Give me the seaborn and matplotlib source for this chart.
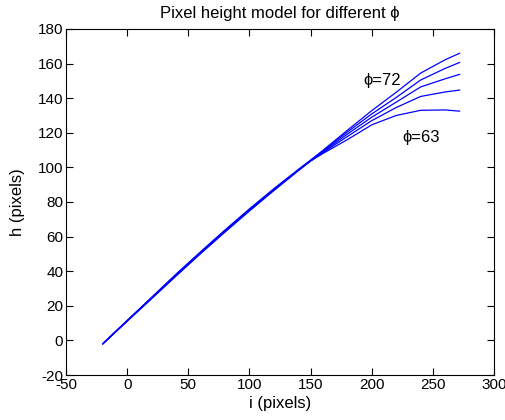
import matplotlib

matplotlib.use("Agg")

import matplotlib.pyplot as plt
import pandas as pd
import seaborn as sns

# column positions i (pixels)
I_VALUES = [-20, 0, 20, 40, 60, 80, 100, 120, 140, 150, 160, 180, 200, 220, 240, 260, 272]

# pixel height h for each phi curve (top curve = phi 72)
H_PHI_72 = [-2.0, 11.5, 24.9, 38.3, 51.2, 63.8, 76.0, 87.7, 98.8, 104.2, 109.8, 121.4, 132.8, 143.4, 154.5, 162.2, 166.0]
H_PHI_70 = [-2.0, 11.4, 24.7, 38.0, 50.9, 63.5, 75.7, 87.4, 98.6, 104.0, 109.4, 120.4, 130.9, 140.4, 150.5, 157.2, 160.7]
H_PHI_68 = [-2.0, 11.3, 24.5, 37.8, 50.7, 63.2, 75.4, 87.1, 98.4, 103.9, 108.9, 119.2, 129.0, 137.7, 146.5, 151.2, 153.8]
H_PHI_66 = [-2.0, 11.2, 24.3, 37.5, 50.4, 62.9, 75.1, 86.9, 98.3, 103.8, 108.5, 117.8, 127.0, 134.6, 141.0, 143.6, 144.7]
H_PHI_63 = [-2.0, 11.1, 24.1, 37.2, 50.1, 62.6, 74.8, 86.6, 98.1, 103.6, 108.0, 116.0, 124.6, 130.0, 133.0, 133.2, 132.5]

PHI_LABELS = [72, 70, 68, 66, 63]

X_TICKS = [-50, 0, 50, 100, 150, 200, 250, 300]
Y_TICKS = [-20, 0, 20, 40, 60, 80, 100, 120, 140, 160, 180]

FONT = ["Liberation Sans", "DejaVu Sans"]


def build_frame() -> pd.DataFrame:
    series = [H_PHI_72, H_PHI_70, H_PHI_68, H_PHI_66, H_PHI_63]
    frames = [
        pd.DataFrame({"i": I_VALUES, "h": values, "phi": phi})
        for phi, values in zip(PHI_LABELS, series)
    ]
    return pd.concat(frames, ignore_index=True)


def main() -> None:
    sns.set_theme(style="white")
    plt.rcParams["font.family"] = FONT
    plt.rcParams["axes.unicode_minus"] = False
    plt.rcParams["xtick.direction"] = "in"
    plt.rcParams["ytick.direction"] = "in"
    plt.rcParams["text.color"] = "black"
    plt.rcParams["axes.labelcolor"] = "black"

    df = build_frame()

    fig = plt.figure(figsize=(5.06, 4.2), dpi=100)
    ax = fig.add_axes([0.1304, 0.1071, 0.8459, 0.8239])
    sns.lineplot(
        data=df, x="i", y="h", hue="phi", units="phi", estimator=None,
        palette=["#0000FF"] * len(PHI_LABELS), linewidth=0.9, legend=False, ax=ax,
    )

    ax.set_xlim(-50, 300)
    ax.set_ylim(-20, 180)
    ax.set_xticks(X_TICKS)
    ax.set_yticks(Y_TICKS)
    ax.tick_params(axis="both", which="both", length=5, width=0.8, labelsize=11,
                   top=True, right=True, bottom=True, left=True, colors="black", pad=2)
    for spine in ax.spines.values():
        spine.set_color("black")
        spine.set_linewidth(0.8)

    ax.set_title("Pixel height model for different ϕ", fontsize=12, pad=8)
    ax.set_xlabel("i (pixels)", fontsize=12, labelpad=3)
    ax.set_ylabel("h (pixels)", fontsize=12, labelpad=9)

    ax.text(193, 150.5, "ϕ=72", fontsize=12, va="center", ha="left")
    ax.text(225, 117.3, "ϕ=63", fontsize=12, va="center", ha="left")

    fig.savefig("out.png", dpi=100)
    plt.close(fig)


if __name__ == "__main__":
    main()
